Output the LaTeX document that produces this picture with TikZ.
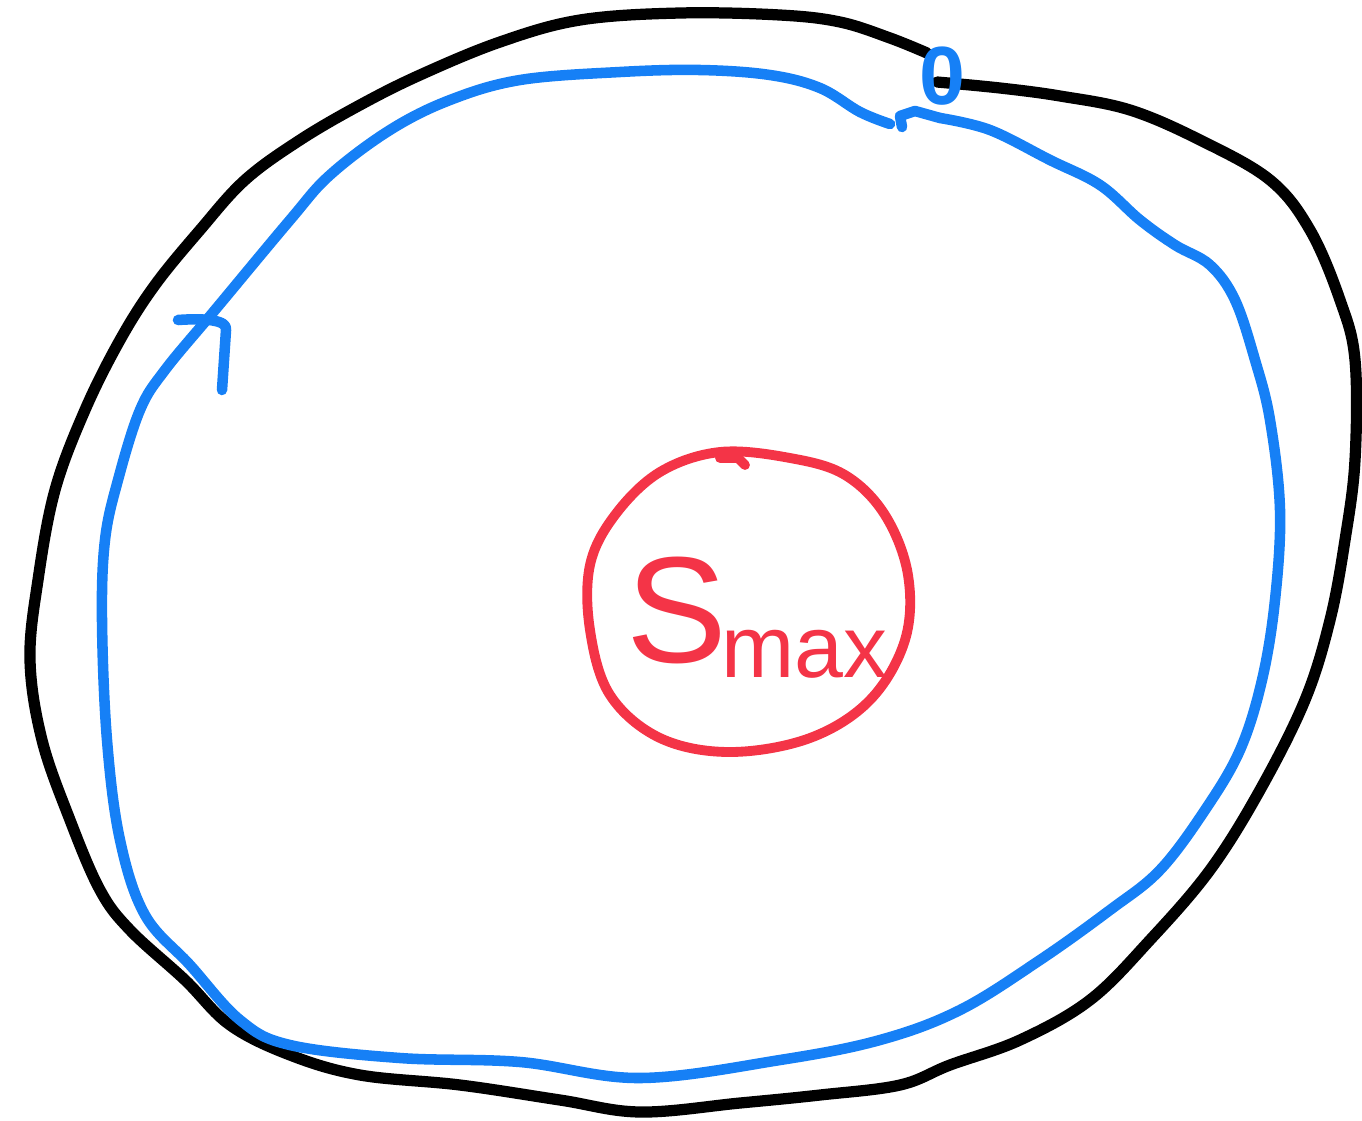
\documentclass[tikz,border=0pt]{standalone}
\usepackage{fontspec}
\setmainfont{Liberation Sans}
\usepackage{tikz}
\definecolor{inkblack}{HTML}{000000}
\definecolor{inkblue}{HTML}{1680F6}
\definecolor{inkred}{HTML}{F43447}
\usetikzlibrary{positioning, calc}

\begin{document}
\begin{tikzpicture}[
    x=0.02cm, y=-0.02cm,
    % Stroke styles
    outer loop/.style={
        draw=inkblack,
        line width=6.4pt,
        line cap=round,
        line join=round
    },
    inner loop/.style={
        draw=inkblue,
        line width=6pt,
        line cap=round,
        line join=round
    },
    core loop/.style={
        draw=inkred,
        line width=5.6pt,
        line cap=round,
        line join=round
    },
    start label/.style={
        text=inkblue,
        font=\bfseries\fontsize{47}{47}\selectfont,
        inner sep=0pt
    },
    core label/.style={
        text=inkred,
        inner sep=0pt
    }
]

% Canvas
\useasboundingbox (0,0) rectangle (1362,1120);

% Outer (black) loop
\draw[outer loop] plot[smooth, tension=0.6] coordinates {
    (937,82) (1000,88) (1060,96) (1130,110) (1200,140) (1270,180)
    (1310,230) (1340,300) (1355,360) (1355,460) (1345,540) (1330,620)
    (1305,700) (1260,790) (1210,870) (1150,940) (1090,1000) (1020,1040)
    (950,1065) (900,1085) (820,1095) (740,1103) (640,1112) (560,1100)
    (460,1085) (360,1075) (290,1055) (230,1025) (185,980) (130,930)
    (100,890) (70,820) (42,740) (30,660) (38,580) (55,490) (85,410)
    (120,340) (155,285) (200,230) (245,180) (300,140) (360,105) (420,75)
    (500,42) (580,20) (680,13) (780,15) (840,22) (890,38) (927,53)};

% Inner (blue) loop
\draw[inner loop] plot[smooth, tension=0.6] coordinates {
    (940,118) (990,130) (1050,160) (1100,185) (1140,220) (1175,245)
    (1210,265) (1235,300) (1255,360) (1270,420) (1280,510) (1275,600)
    (1262,680) (1240,750) (1205,810) (1160,870) (1110,910) (1040,960)
    (960,1010) (880,1040) (780,1060) (640,1078) (520,1062) (400,1058)
    (290,1045) (240,1020) (190,965) (145,915) (120,840) (107,740)
    (102,620) (105,540) (118,480) (140,410) (165,370) (215,310)
    (290,220) (330,175) (390,130) (450,100) (520,80) (620,72) (700,70)
    (770,75) (820,88) (860,112) (890,124)};
\draw[inner loop] (902,127) -- (900,116) -- (915,111) -- (940,118);

% Direction mark on the blue loop
\coordinate (tipL) at (178,320);
\coordinate (tipA) at (226,330);
\coordinate (tipR) at (222,390);
\draw[inner loop] (tipL) .. controls (205,318) and (228,320) .. (tipA) -- (tipR);

% Start label
\node[start label] (zero) at (942,76) {0};

% Core (red) loop
\draw[core loop] plot[smooth cycle, tension=0.6] coordinates {
    (720,452) (790,458) (845,475) (885,515) (908,575) (905,640)
    (870,700) (810,738) (730,752) (660,738) (610,695) (590,630)
    (590,565) (615,515) (660,472)};
\draw[core loop] (720,458) -- (738,458) -- (745,465);

% Core label
\node[core label, anchor=base west] (smax) at (626,662)
    {{\fontsize{86}{86}\selectfont S}\kern-0.12cm\raisebox{-0.3cm}{\fontsize{50}{50}\selectfont max}};

\end{tikzpicture}
\end{document}
